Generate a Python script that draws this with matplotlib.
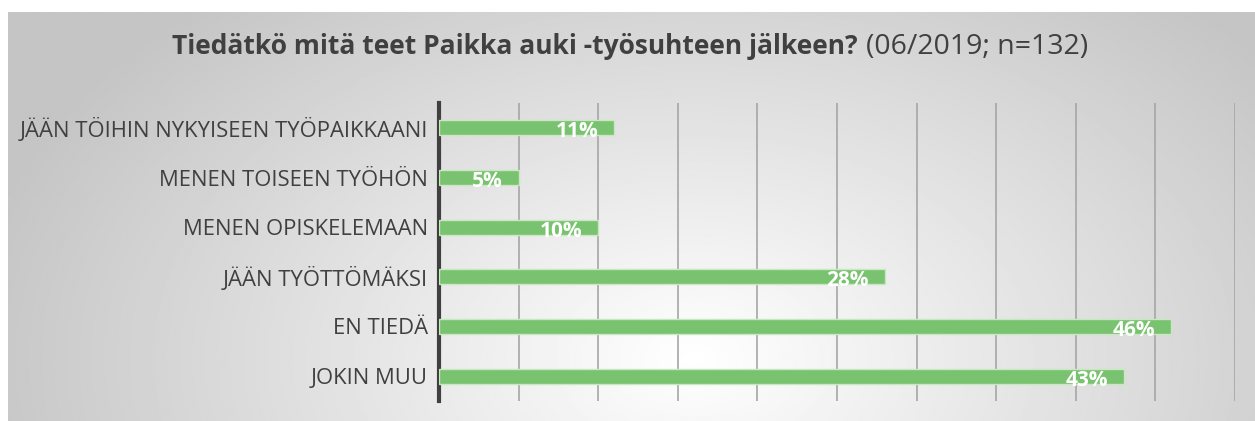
import numpy as np
import matplotlib
matplotlib.use('Agg')
import matplotlib.pyplot as plt

plt.rcParams['font.family'] = ['Open Sans', 'DejaVu Sans']

categories = ['JÄÄN TÖIHIN NYKYISEEN TYÖPAIKKAANI', 'MENEN TOISEEN TYÖHÖN', 'MENEN OPISKELEMAAN',
              'JÄÄN TYÖTTÖMÄKSI', 'EN TIEDÄ', 'JOKIN MUU']
values = [11, 5, 10, 28, 46, 43]
labels = ['11%', '5%', '10%', '28%', '46%', '43%']

fig = plt.figure(figsize=(12.55, 4.21), dpi=100)

# taustan liukuväri
bg = fig.add_axes([8 / 1255, 0, 1 - 8 / 1255, 1 - 12 / 421], zorder=0)
yy, xx = np.mgrid[0:1:200j, 0:1:600j]
d = np.sqrt(((xx - 0.55) * 1.6) ** 2 + ((yy - 0.85) * 0.8) ** 2)
d = np.clip(d / 0.95, 0, 1)
bg.imshow(1 - 0.23 * d, cmap='gray', vmin=0, vmax=1, aspect='auto', extent=[0, 1, 0, 1], origin='upper')
bg.axis('off')

ax = fig.add_axes([439 / 1255, 20 / 421, (1235 - 439) / 1255, (401 - 103) / 421], zorder=1)
ax.patch.set_alpha(0)
y = np.arange(len(categories))
ax.barh(y, values, height=0.3, color='#79C26F', edgecolor='#c8e8c2', linewidth=1, zorder=3)
for yi, v, lab in zip(y, values, labels):
    ax.text(v - 1.0, yi + 0.08, lab, ha='right', va='center', color='white', fontsize=15,
            fontweight='bold', zorder=4)

ax.set_xlim(0, 50)
ax.set_ylim(len(categories) - 0.5, -0.5)
ax.set_xticks(np.arange(0, 51, 5))
ax.set_xticklabels([])
ax.tick_params(axis='x', length=0)
ax.tick_params(axis='y', length=0, labelsize=15.8, labelcolor='#404040', pad=8)
ax.set_yticks(y)
ax.set_yticklabels(categories)
ax.grid(axis='x', color='#a6a6a6', linewidth=1.2, zorder=0)
for s in ['top', 'right', 'bottom']:
    ax.spines[s].set_visible(False)
ax.spines['left'].set_color('#404040')
ax.spines['left'].set_linewidth(3)

fig.text(858 / 1255, 1 - 47 / 421, 'Tiedätkö mitä teet Paikka auki -työsuhteen jälkeen?', ha='right', va='center',
         fontsize=19, fontweight='bold', color='#404040')
fig.text(866 / 1255, 1 - 47 / 421, '(06/2019; n=132)', ha='left', va='center', fontsize=20.5, color='#404040')

fig.savefig('out.png', dpi=100)
